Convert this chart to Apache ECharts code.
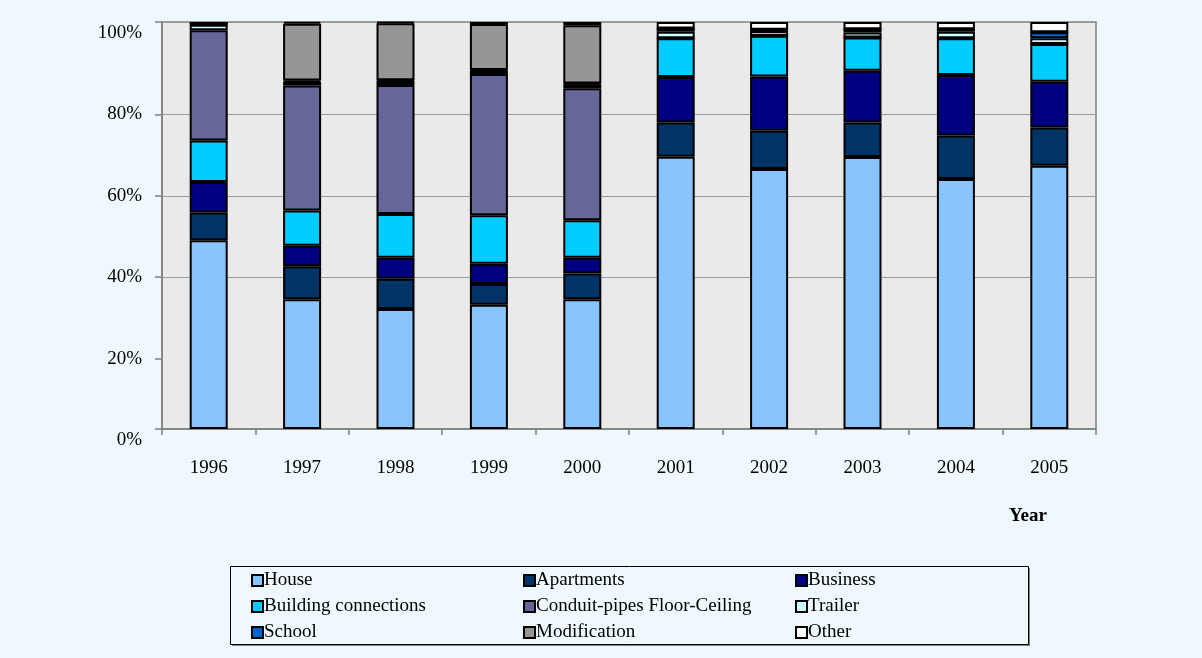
<!DOCTYPE html>
<html>
<head>
<meta charset="utf-8">
<script src="https://cdn.jsdelivr.net/npm/echarts@6/dist/echarts.min.js"></script>
<style>
html,body{margin:0;padding:0;background:#EEF8FD;}
#chart{width:1202px;height:658px;}
</style>
</head>
<body>
<div id="chart"></div>
<script>
const categories = ['1996','1997','1998','1999','2000','2001','2002','2003','2004','2005'];
const seriesNames = ['House','Apartments','Business','Building connections','Conduit-pipes Floor-Ceiling','Trailer','School','Modification','Other'];
const house        = [46.4, 31.9, 29.5, 30.5, 31.9, 66.9, 63.9, 66.8, 61.4, 64.7];
const apartments   = [6.8, 8.1, 7.4, 5.1, 6.3, 8.4, 9.4, 8.5, 10.7, 9.4];
const business     = [7.5, 5.0, 5.2, 5.0, 3.9, 11.2, 13.3, 12.7, 14.9, 11.2];
const building     = [10.2, 8.7, 10.7, 11.9, 9.2, 9.5, 10.0, 8.2, 9.0, 9.3];
const conduit      = [27.1, 30.7, 31.7, 34.7, 32.4, 0, 0, 0, 0, 0];
const trailer      = [1.3, 0.9, 1.0, 0.8, 1.0, 1.6, 1.2, 1.2, 1.6, 1.4];
const school       = [0.2, 0.3, 0.2, 0.2, 0.2, 0.8, 0.3, 0.8, 0.6, 1.5];
const modification = [0, 14.0, 14.0, 11.3, 14.3, 0, 0, 0, 0, 0];
const other        = [0.5, 0.4, 0.3, 0.5, 0.8, 1.6, 1.9, 1.8, 1.8, 2.5];
const yTickValues  = [0, 20, 40, 60, 80, 100];

const seriesData = [house, apartments, business, building, conduit, trailer, school, modification, other];
const colors = ['#8AC4FF','#003366','#000080','#00CCFF','#666699','#CCFFFF','#0066CC','#969696','#FFFFFF'];
const FONT = 'Liberation Serif';
const BG = '#EEF8FD';

const chart = echarts.init(document.getElementById('chart'), null, {renderer:'canvas'});

const legendCommon = {
  orient: 'vertical',
  top: 571,
  padding: 0,
  icon: 'rect',
  itemWidth: 11,
  itemHeight: 11,
  itemGap: 7,
  selectedMode: false,
  itemStyle: {borderColor: '#000', borderWidth: 2},
  textStyle: {fontFamily: FONT, fontSize: 19, color: '#000', lineHeight: 19, padding: [0,0,0,-4]}
};

const option = {
  backgroundColor: BG,
  animation: false,
  grid: [
    {left: 162, top: 22, width: 934, height: 407, show: true, backgroundColor: '#EAEAEA', borderColor: '#808080', borderWidth: 1.5},
    {left: 162, top: 33, width: 934, height: 407, show: false}
  ],
  xAxis: [
    {
      type: 'category', gridIndex: 0, data: categories,
      axisLine: {lineStyle: {color: '#808080', width: 1.5}},
      axisTick: {show: true, length: 6, lineStyle: {color: '#808080', width: 1.5}},
      axisLabel: {fontFamily: FONT, fontSize: 19, color: '#000', margin: 30},
      splitLine: {show: false}
    },
    {type: 'category', gridIndex: 1, data: categories, show: false}
  ],
  yAxis: [
    {
      type: 'value', gridIndex: 0, min: 0, max: 100, interval: 100,
      axisLine: {show: true, lineStyle: {color: '#808080', width: 1.5}},
      axisTick: {show: true, length: 7, lineStyle: {color: '#808080', width: 1.5}},
      axisLabel: {show: false},
      splitLine: {show: false}
    },
    {
      type: 'value', gridIndex: 1, min: yTickValues[0], max: yTickValues[yTickValues.length-1], interval: 20,
      axisLine: {show: false},
      axisTick: {show: true, length: 7, customValues: [20, 40, 60, 80], lineStyle: {color: '#808080', width: 1.5}},
      axisLabel: {fontFamily: FONT, fontSize: 19, color: '#000', margin: 20, formatter: '{value}%'},
      splitLine: {show: true, lineStyle: {color: ['transparent','#9A9A9A','#9A9A9A','#9A9A9A','#9A9A9A','transparent'], width: 1.2}}
    }
  ],
  legend: [
    Object.assign({}, legendCommon, {left: 251, data: ['House','Building connections','School']}),
    Object.assign({}, legendCommon, {left: 523, data: ['Apartments','Conduit-pipes Floor-Ceiling','Modification']}),
    Object.assign({}, legendCommon, {left: 795, data: ['Business','Trailer','Other']})
  ],
  graphic: [
    {type: 'rect', z: -1, shape: {x: 232, y: 568, width: 798, height: 78}, style: {fill: '#808080'}, silent: true},
    {type: 'rect', z: -1, shape: {x: 230.5, y: 566.5, width: 798, height: 78}, style: {fill: BG, stroke: '#000', lineWidth: 1}, silent: true},
    {type: 'text', left: 1009, top: 507, style: {text: 'Year', font: 'bold 19px "Liberation Serif"', fill: '#000'}, silent: true}
  ],
  series: seriesNames.map((name, i) => ({
    name: name,
    type: 'bar',
    stack: 'total',
    xAxisIndex: 0,
    yAxisIndex: 0,
    barWidth: 38,
    data: seriesData[i],
    itemStyle: {color: colors[i], borderColor: '#000', borderWidth: 2}
  }))
};
chart.setOption(option);
</script>
</body>
</html>
